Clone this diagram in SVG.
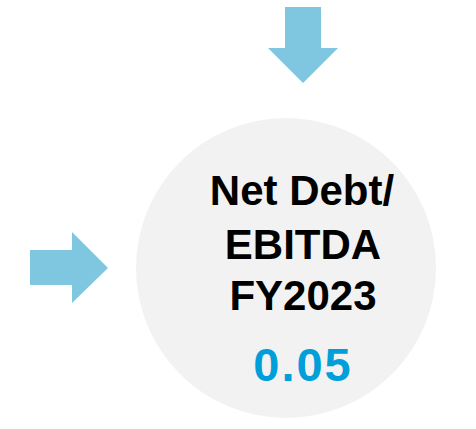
<svg xmlns="http://www.w3.org/2000/svg" width="476" height="429" viewBox="0 0 476 429">
  <style>
    .arrow { fill: #7FC7E1; }
    .disc { fill: #F2F2F2; }
    .label { font-family: "Liberation Sans", Arial, sans-serif; font-weight: bold; fill: #000000; text-anchor: middle; font-size: 42px; }
    .value { font-family: "Liberation Sans", Arial, sans-serif; font-weight: bold; fill: #009FDA; text-anchor: middle; font-size: 47px; letter-spacing: 2px; }
  </style>
  <rect width="476" height="429" fill="#FFFFFF"/>
  <g id="connectors">
    <!-- arrow pointing down onto the circle -->
    <polygon class="arrow" points="285,7 321,7 321,48 338,48 303,83 268,48 285,48"/>
    <!-- arrow pointing right towards the circle -->
    <polygon class="arrow" points="30,250 72,250 72,232 108,268 72,303 72,285 30,285"/>
  </g>
  <g id="ratio-node">
    <circle class="disc" cx="286" cy="268" r="150"/>
    <text class="label" x="302" y="205">Net Debt/</text>
    <text class="label" x="303" y="259">EBITDA</text>
    <text class="label" x="303" y="310">FY2023</text>
    <text class="value" x="303" y="381">0.05</text>
  </g>
</svg>
